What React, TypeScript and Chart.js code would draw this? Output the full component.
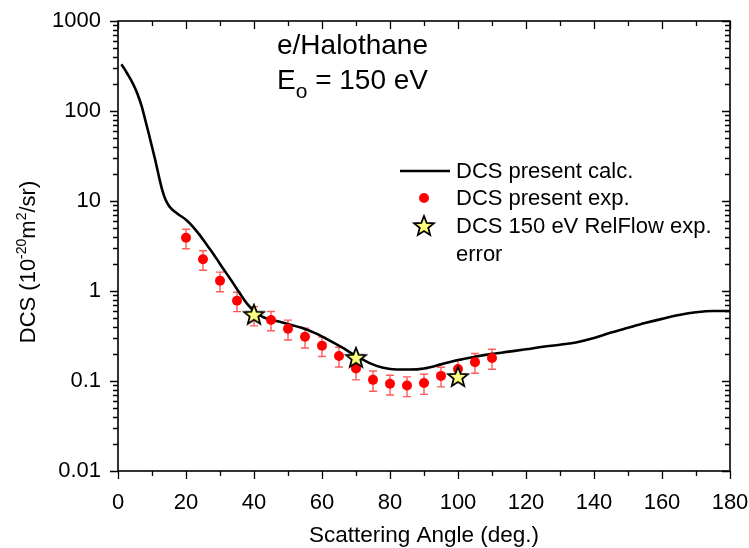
import React, { useEffect, useRef } from "react";
import { Chart, registerables } from "chart.js";
Chart.register(...registerables);

// ---- data ----
const calcAngles = [1, 2, 3, 4, 5, 6, 7, 8, 9, 10, 11, 12, 13, 14, 15, 16, 18, 20, 22, 24, 26, 28, 30, 32, 34, 36, 38, 40, 42, 44, 47, 50, 54, 58, 62, 66, 70, 74, 78, 82, 86, 90, 95, 100, 105, 110, 115, 120, 125, 130, 135, 140, 145, 150, 155, 160, 165, 170, 175, 180];
const calcValues = [330, 290, 250, 215, 180, 145, 112, 80, 57, 40, 28, 19, 13.3, 10.3, 8.8, 8.0, 7.0, 6.2, 5.2, 4.2, 3.3, 2.6, 2.0, 1.55, 1.2, 0.92, 0.72, 0.6, 0.53, 0.49, 0.46, 0.43, 0.39, 0.34, 0.285, 0.235, 0.19, 0.158, 0.14, 0.134, 0.134, 0.138, 0.153, 0.171, 0.186, 0.2, 0.212, 0.225, 0.24, 0.253, 0.27, 0.3, 0.345, 0.39, 0.44, 0.49, 0.54, 0.58, 0.6, 0.6];

const expAngles = [20, 25, 30, 35, 40, 45, 50, 55, 60, 65, 70, 75, 80, 85, 90, 95, 100, 105, 110];
const expValues = [3.9, 2.25, 1.3, 0.78, 0.54, 0.476, 0.38, 0.31, 0.247, 0.19, 0.138, 0.103, 0.093, 0.089, 0.095, 0.114, 0.136, 0.162, 0.18];
const expErrors = [0.95, 0.55, 0.32, 0.19, 0.13, 0.115, 0.095, 0.077, 0.06, 0.047, 0.035, 0.026, 0.023, 0.022, 0.024, 0.028, 0.034, 0.04, 0.045];

const refAngles = [40, 70, 100];
const refValues = [0.545, 0.181, 0.111];

const xTickValues = [0, 20, 40, 60, 80, 100, 120, 140, 160, 180];
const xTickLabels = ["0", "20", "40", "60", "80", "100", "120", "140", "160", "180"];
const xMinorValues = [10, 30, 50, 70, 90, 110, 130, 150, 170];
const yTickValues = [0.01, 0.1, 1, 10, 100, 1000];
const yTickLabels = ["0.01", "0.1", "1", "10", "100", "1000"];

const legendLabels = ["DCS present calc.", "DCS present exp.", "DCS 150 eV RelFlow exp.", "error"];
const titleLine1 = "e/Halothane";
const xTitle = "Scattering Angle (deg.)";

const FONT = "'Liberation Sans', Arial, sans-serif";

function makeStar(): HTMLCanvasElement {
  const c = document.createElement("canvas");
  c.width = 24;
  c.height = 24;
  const g = c.getContext("2d")!;
  const cx = 12, cy = 12.5, R = 10.5, r = 4.5;
  g.beginPath();
  for (let i = 0; i < 10; i++) {
    const rad = i % 2 === 0 ? R : r;
    const a = -Math.PI / 2 + (i * Math.PI) / 5;
    const px = cx + rad * Math.cos(a);
    const py = cy + rad * Math.sin(a);
    if (i === 0) g.moveTo(px, py);
    else g.lineTo(px, py);
  }
  g.closePath();
  g.fillStyle = "#ffff80";
  g.fill();
  g.lineWidth = 1.8;
  g.strokeStyle = "#000";
  g.lineJoin = "miter";
  g.stroke();
  return c;
}

const errorBars = {
  id: "errorBars",
  beforeDatasetsDraw(chart: any) {
    const ctx = chart.ctx;
    const xs = chart.scales.x, ys = chart.scales.y;
    ctx.save();
    ctx.strokeStyle = "#ff5c5c";
    ctx.lineWidth = 1.4;
    expAngles.forEach((a, i) => {
      const x = xs.getPixelForValue(a);
      const yt = ys.getPixelForValue(expValues[i] + expErrors[i]);
      const yb = ys.getPixelForValue(expValues[i] - expErrors[i]);
      ctx.beginPath();
      ctx.moveTo(x, yt);
      ctx.lineTo(x, yb);
      ctx.moveTo(x - 4, yt);
      ctx.lineTo(x + 4, yt);
      ctx.moveTo(x - 4, yb);
      ctx.lineTo(x + 4, yb);
      ctx.stroke();
    });
    ctx.restore();
  },
};

const frame = {
  id: "frame",
  afterDraw(chart: any) {
    const ctx = chart.ctx;
    const { left, right, top, bottom } = chart.chartArea;
    const xs = chart.scales.x, ys = chart.scales.y;
    ctx.save();
    ctx.strokeStyle = "#000";
    ctx.lineWidth = 1.6;
    ctx.strokeRect(left, top, right - left, bottom - top);
    ctx.lineWidth = 1.3;
    const MAJ = 8, MIN = 5;
    ctx.beginPath();
    const xt = (v: number, len: number) => {
      const x = Math.round(xs.getPixelForValue(v)) + 0.5;
      ctx.moveTo(x, bottom);
      ctx.lineTo(x, bottom + len);
      ctx.moveTo(x, top);
      ctx.lineTo(x, top + len);
    };
    xTickValues.forEach((v) => xt(v, MAJ));
    xMinorValues.forEach((v) => xt(v, MIN));
    const yt = (v: number, len: number) => {
      const y = Math.round(ys.getPixelForValue(v)) + 0.5;
      ctx.moveTo(left, y);
      ctx.lineTo(left - len, y);
      ctx.moveTo(right, y);
      ctx.lineTo(right - len, y);
    };
    yTickValues.forEach((v) => yt(v, MAJ));
    for (let d = 0; d < yTickValues.length - 1; d++) {
      for (let m = 2; m <= 9; m++) yt(yTickValues[d] * m, MIN);
    }
    ctx.stroke();

    // x title
    ctx.fillStyle = "#000";
    ctx.font = `22.5px ${FONT}`;
    ctx.textAlign = "center";
    ctx.textBaseline = "middle";
    ctx.fillText(xTitle, (left + right) / 2, 536);

    // y title with superscripts
    const parts: [string, boolean][] = [["DCS (10", false], ["-20", true], ["m", false], ["2", true], ["/sr)", false]];
    const big = `22px ${FONT}`, small = `14px ${FONT}`;
    let total = 0;
    parts.forEach(([t, s]) => {
      ctx.font = s ? small : big;
      total += ctx.measureText(t).width;
    });
    ctx.translate(27, 262);
    ctx.rotate(-Math.PI / 2);
    ctx.textAlign = "left";
    ctx.textBaseline = "alphabetic";
    let px = -total / 2;
    parts.forEach(([t, s]) => {
      ctx.font = s ? small : big;
      ctx.fillText(t, px, s ? -1 : 8);
      px += ctx.measureText(t).width;
    });
    ctx.restore();

    // annotation
    ctx.save();
    ctx.fillStyle = "#000";
    ctx.textAlign = "left";
    ctx.textBaseline = "alphabetic";
    ctx.font = `28px ${FONT}`;
    ctx.fillText(titleLine1, 277, 54);
    ctx.fillText("E", 277, 89);
    const ew = ctx.measureText("E").width;
    ctx.font = `21px ${FONT}`;
    ctx.fillText("o", 277 + ew, 98);
    const ow = ctx.measureText("o").width;
    ctx.font = `28px ${FONT}`;
    ctx.fillText(" = 150 eV", 277 + ew + ow, 89);

    // legend
    ctx.font = `22px ${FONT}`;
    ctx.textBaseline = "middle";
    const rows = [171, 198, 226, 254];
    ctx.strokeStyle = "#000";
    ctx.lineWidth = 2.5;
    ctx.beginPath();
    ctx.moveTo(400, rows[0]);
    ctx.lineTo(450, rows[0]);
    ctx.stroke();
    ctx.fillStyle = "#ff0000";
    ctx.beginPath();
    ctx.arc(424, rows[1], 5, 0, Math.PI * 2);
    ctx.fill();
    ctx.drawImage(starImg!, 424 - 12, rows[2] - 12);
    ctx.fillStyle = "#000";
    legendLabels.forEach((t, i) => ctx.fillText(t, 456, rows[i] + 1));
    ctx.restore();
  },
};

let starImg: HTMLCanvasElement | null = null;

export default function App() {
  const ref = useRef<HTMLCanvasElement>(null);
  useEffect(() => {
    starImg = makeStar();
    Chart.defaults.font.family = FONT;
    const chart = new Chart(ref.current!, {
      type: "scatter",
      data: {
        datasets: [
          {
            label: "ref",
            data: refAngles.map((a, i) => ({ x: a, y: refValues[i] })),
            pointStyle: starImg as any,
            pointRadius: 11,
            showLine: false,
          },
          {
            label: "exp",
            data: expAngles.map((a, i) => ({ x: a, y: expValues[i] })),
            backgroundColor: "#ff0000",
            borderColor: "#ff0000",
            pointRadius: 5,
            borderWidth: 0,
            showLine: false,
          },
          {
            label: "calc",
            data: calcAngles.map((a, i) => ({ x: a, y: calcValues[i] })),
            showLine: true,
            borderColor: "#000",
            borderWidth: 2.6,
            pointRadius: 0,
            cubicInterpolationMode: "monotone",
            fill: false,
          } as any,
        ],
      },
      options: {
        responsive: false,
        animation: false,
        devicePixelRatio: 1,
        layout: { padding: { top: 21, right: 19, left: 0, bottom: 0 } },
        plugins: { legend: { display: false }, tooltip: { enabled: false } },
        scales: {
          x: {
            type: "linear",
            min: 0,
            max: 180,
            afterBuildTicks: (s: any) => {
              s.ticks = xTickValues.map((v) => ({ value: v }));
            },
            afterFit: (s: any) => {
              s.height = 77;
              s.paddingLeft = 0;
              s.paddingRight = 0;
            },
            ticks: {
              callback: (v: any) => xTickLabels[xTickValues.indexOf(Number(v))],
              font: { size: 22, family: FONT },
              color: "#000",
              padding: 19,
              maxRotation: 0,
              autoSkip: false,
            },
            grid: { display: false, drawTicks: false },
            border: { display: false },
          },
          y: {
            type: "logarithmic",
            min: 0.01,
            max: 1000,
            afterBuildTicks: (s: any) => {
              s.ticks = yTickValues.map((v) => ({ value: v }));
            },
            afterFit: (s: any) => {
              s.width = 118;
              s.paddingTop = 0;
              s.paddingBottom = 0;
            },
            ticks: {
              callback: (v: any) => yTickLabels[yTickValues.indexOf(Number(v))],
              font: { size: 22, family: FONT },
              color: "#000",
              padding: 17,
              autoSkip: false,
            },
            grid: { display: false, drawTicks: false },
            border: { display: false },
          },
        },
      },
      plugins: [errorBars, frame],
    });
    return () => chart.destroy();
  }, []);
  return (
    <div style={{ position: "absolute", left: 0, top: 0, width: 749, height: 548, background: "#fff" }}>
      <canvas ref={ref} width={749} height={548} />
    </div>
  );
}
